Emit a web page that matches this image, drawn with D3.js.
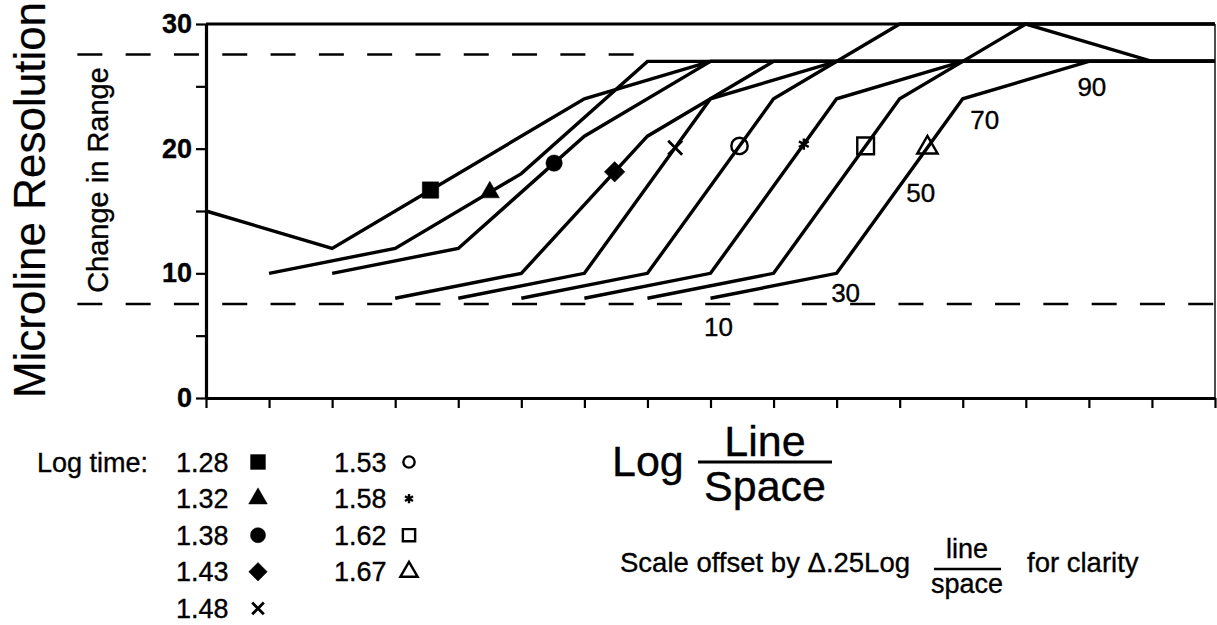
<!DOCTYPE html>
<html>
<head>
<meta charset="utf-8">
<script src="https://cdn.jsdelivr.net/npm/d3@7"></script>
<style>
body { margin: 0; background: #fff; }
svg { display: block; font-family: "Liberation Sans", Arial, Helvetica, sans-serif; }
svg text { fill: #000; stroke: #000; stroke-width: 0.35px; }
</style>
</head>
<body>
<svg id="chart"></svg>
<script>
// one curve per log time: [log line/space, microline resolution]
var lt128 = [[0, 15], [0.5, 12], [1.5, 24], [2, 27], [4, 27]];
var lt132 = [[0.25, 10], [0.75, 12], [1.25, 18], [1.75, 27], [4, 27]];
var lt138 = [[0.5, 10], [1, 12], [1.5, 21], [2, 27], [4, 27]];
var lt143 = [[0.75, 8], [1.25, 10], [1.75, 21], [2.25, 27], [4, 27]];
var lt148 = [[1, 8], [1.5, 10], [2, 24], [2.5, 27], [4, 27]];
var lt153 = [[1.25, 8], [1.75, 10], [2.25, 24], [2.75, 30], [4, 30]];
var lt158 = [[1.5, 8], [2, 10], [2.5, 24], [3, 27], [4, 27]];
var lt162 = [[1.75, 8], [2.25, 10], [2.75, 24], [3.25, 30], [3.75, 27], [4, 27]];
var lt167 = [[2, 8], [2.5, 10], [3, 24], [3.5, 27], [4, 27]];

var logTimes = ["1.28", "1.32", "1.38", "1.43", "1.48", "1.53", "1.58", "1.62", "1.67"];
var markerX = [0.89, 1.125, 1.38, 1.62, 1.86, 2.115, 2.37, 2.615, 2.86];
var rangeLimits = [27.55, 7.55];
var lineLabels = ["10", "30", "50", "70", "90"];
var lineLabelX = [2, 2.5, 2.75, 3, 3.5];
var yTicks = [0, 5, 10, 15, 20, 25, 30];
var xTicks = [0, 0.25, 0.5, 0.75, 1, 1.25, 1.5, 1.75, 2, 2.25, 2.5, 2.75, 3, 3.25, 3.5, 3.75, 4];

var curves = [lt128, lt132, lt138, lt143, lt148, lt153, lt158, lt162, lt167];
var shapes = ["square", "triangle", "circle", "diamond", "times", "circleOpen", "asterisk", "squareOpen", "triangleOpen"];

var dimensions = {
    width: 1217,
    height: 625,
    margin: {
        top: 24,
        bottom: 227,
        right: 2,
        left: 206
    }
}
dimensions.boundedWidth = dimensions.width - dimensions.margin.left - dimensions.margin.right
dimensions.boundedHeight = dimensions.height - dimensions.margin.top - dimensions.margin.bottom

var svg = d3.select("#chart")
    .attr("width", dimensions.width)
    .attr("height", dimensions.height)

svg.append("rect")
    .attr("width", dimensions.width)
    .attr("height", dimensions.height)
    .attr("fill", "#fff")

var bounds = svg.append("g")
    .attr("transform", "translate(" + dimensions.margin.left + "," + dimensions.margin.top + ")")

var xScale = d3.scaleLinear()
    .domain([0, 4])
    .range([0, dimensions.boundedWidth])

var yScale = d3.scaleLinear()
    .domain([0, 30])
    .range([dimensions.boundedHeight, 0])

// value of a curve at some x, so the marker sits on its line
function valueAt(points, xv) {
    var i = d3.bisector(function (d) { return d[0] }).right(points, xv)
    var a = points[i - 1], b = points[i]
    return a[1] + (b[1] - a[1]) * (xv - a[0]) / (b[0] - a[0])
}

function symbolPath(name, size) {
    var types = {
        square: d3.symbolSquare, triangle: d3.symbolTriangle, circle: d3.symbolCircle,
        diamond: d3.symbolSquare, times: d3.symbolTimes || d3.symbolCross,
        circleOpen: d3.symbolCircle, asterisk: d3.symbolAsterisk || d3.symbolCross,
        squareOpen: d3.symbolSquare, triangleOpen: d3.symbolTriangle
    }
    return d3.symbol().type(types[name]).size(size)()
}
var filled = { square: true, triangle: true, circle: true, diamond: true }

function drawSymbol(sel, name, size, cx, cy) {
    sel.append("path")
        .attr("d", symbolPath(name, size))
        .attr("transform", "translate(" + cx + "," + cy + ")" + (name == "diamond" ? " rotate(45)" : ""))
        .attr("fill", filled[name] ? "#000" : "none")
        .attr("stroke", "#000")
        .attr("stroke-width", filled[name] ? 0.5 : (name == "times" ? 2.8 : 2.4))
}

// dashed limits of the change in range
bounds.selectAll(".limit")
    .data(rangeLimits)
    .enter()
    .append("line")
    .attr("x1", xScale(-0.51))
    .attr("x2", function (d, i) { return i == 0 ? xScale(1.705) : xScale(4) })
    .attr("y1", d => yScale(d))
    .attr("y2", d => yScale(d))
    .attr("stroke", "#000")
    .attr("stroke-width", 2.5)
    .attr("stroke-dasharray", "25,23.3")

var line = d3.line()
    .x(d => xScale(d[0]))
    .y(d => yScale(d[1]))

bounds.selectAll(".curve")
    .data(curves)
    .enter()
    .append("path")
    .attr("d", line)
    .attr("fill", "none")
    .attr("stroke", "#000")
    .attr("stroke-width", 3.4)
    .attr("stroke-linejoin", "miter")

// frame
bounds.append("line")
    .attr("x1", xScale(0)).attr("x2", xScale(4))
    .attr("y1", yScale(30)).attr("y2", yScale(30))
    .attr("stroke", "#000").attr("stroke-width", 2.8)
bounds.append("line")
    .attr("x1", xScale(4)).attr("x2", xScale(4))
    .attr("y1", yScale(30)).attr("y2", yScale(0))
    .attr("stroke", "#000").attr("stroke-width", 1.4)

var yAxis = bounds.append("g")
    .call(d3.axisLeft(yScale)
        .tickValues(yTicks)
        .tickSize(10)
        .tickSizeOuter(0)
        .tickPadding(4)
        .tickFormat(d => d % 10 == 0 ? d : ""))
var xAxis = bounds.append("g")
    .attr("transform", "translate(0," + dimensions.boundedHeight + ")")
    .call(d3.axisBottom(xScale)
        .tickValues(xTicks)
        .tickSize(10)
        .tickSizeOuter(0)
        .tickFormat(""))

bounds.selectAll(".domain").attr("stroke", "#000").attr("stroke-width", 3.2)
bounds.selectAll(".tick line").attr("stroke", "#000").attr("stroke-width", 2.2)
yAxis.selectAll("text")
    .attr("fill", "#000")
    .style("font-size", "27px")
    .style("font-weight", "bold")
    .style("font-family", "'Liberation Sans', Arial, sans-serif")

// markers on the curves
curves.forEach(function (pts, i) {
    drawSymbol(bounds, shapes[i], [270, 160, 210, 210, 130, 210, 90, 280, 180][i],
        xScale(markerX[i]), yScale(valueAt(pts, markerX[i])))
})

// labels along the last curve
var labelOffsets = [[8, 38], [9, 29], [21, 16], [22, 30], [3, 35]]
bounds.selectAll(".lbl")
    .data(lineLabels)
    .enter()
    .append("text")
    .attr("x", (d, i) => xScale(lineLabelX[i]) + labelOffsets[i][0])
    .attr("y", (d, i) => yScale(valueAt(lt167, lineLabelX[i])) + labelOffsets[i][1])
    .attr("text-anchor", "middle")
    .style("font-size", "26px")
    .text(d => d)

// axis titles
svg.append("text")
    .attr("transform", "translate(45,200) rotate(-90)")
    .attr("text-anchor", "middle")
    .style("font-size", "44px")
    .style("stroke-width", "0.2px")
    .text("Microline Resolution")

svg.append("text")
    .attr("transform", "translate(108,180) rotate(-90)")
    .attr("text-anchor", "middle")
    .style("font-size", "29px")
    .text("Change in Range")

svg.append("text")
    .attr("x", 612).attr("y", 476)
    .style("font-size", "43px")
    .text("Log")
svg.append("line")
    .attr("x1", 698).attr("x2", 832).attr("y1", 462).attr("y2", 462)
    .attr("stroke", "#000").attr("stroke-width", 2.8)
svg.append("text")
    .attr("x", 765).attr("y", 456)
    .attr("text-anchor", "middle")
    .style("font-size", "43px")
    .text("Line")
svg.append("text")
    .attr("x", 765).attr("y", 501)
    .attr("text-anchor", "middle")
    .style("font-size", "43px")
    .text("Space")

// note under the axis title
svg.append("text")
    .attr("x", 620).attr("y", 572)
    .style("font-size", "27.5px")
    .text("Scale offset by \u0394.25Log")
svg.append("line")
    .attr("x1", 934).attr("x2", 1001).attr("y1", 569).attr("y2", 569)
    .attr("stroke", "#000").attr("stroke-width", 2.6)
svg.append("text")
    .attr("x", 967).attr("y", 558)
    .attr("text-anchor", "middle")
    .style("font-size", "27px")
    .text("line")
svg.append("text")
    .attr("x", 967).attr("y", 593)
    .attr("text-anchor", "middle")
    .style("font-size", "27px")
    .text("space")
svg.append("text")
    .attr("x", 1027).attr("y", 572)
    .style("font-size", "27.5px")
    .text("for clarity")

// legend
var legend = svg.append("g")
legend.append("text")
    .attr("x", 37).attr("y", 472)
    .style("font-size", "27px")
    .text("Log time:")

var legendSizes = [220, 150, 180, 170, 90, 100, 60, 150, 130]
logTimes.forEach(function (t, i) {
    var col = i < 5 ? 0 : 1
    var row = i < 5 ? i : i - 5
    var cy = 462 + row * 36.6
    legend.append("text")
        .attr("x", col == 0 ? 176 : 334)
        .attr("y", cy + 9.5)
        .style("font-size", "27px")
        .text(t)
    drawSymbol(legend, shapes[i], legendSizes[i], col == 0 ? 258 : 409, cy)
})
</script>
</body>
</html>
